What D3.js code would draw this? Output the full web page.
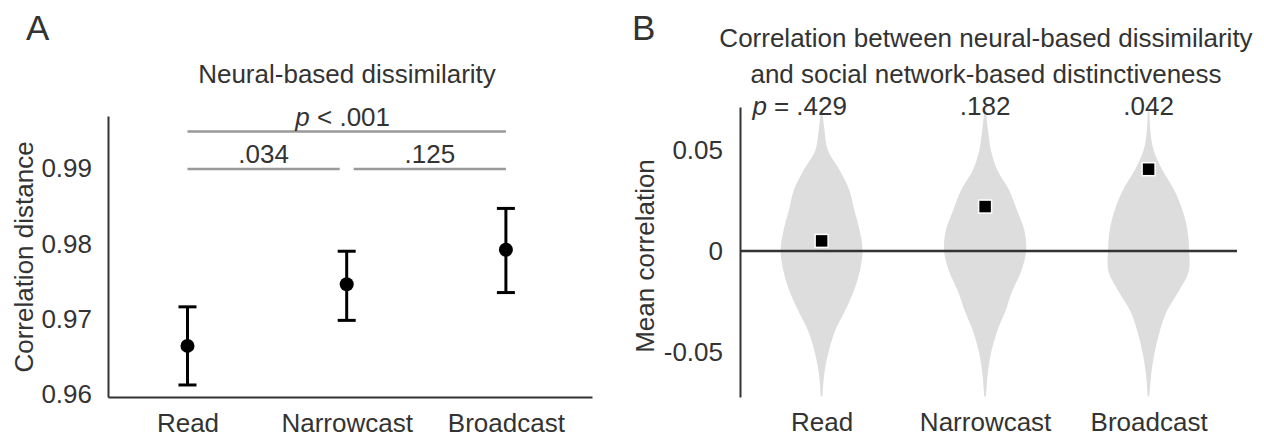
<!DOCTYPE html>
<html>
<head>
<meta charset="utf-8">
<script src="https://cdn.jsdelivr.net/npm/d3@7"></script>
<style>
  body { margin: 0; background: #fff; }
  text { font-family: "Liberation Sans", Arial, sans-serif; fill: #333; }
</style>
</head>
<body>
<svg id="chart"></svg>
<script>
const categories = ["Read", "Narrowcast", "Broadcast"];

// panel A: correlation distance, mean and error bar ends
const distMean = [0.9664, 0.9746, 0.9792];
const distUpper = [0.9716, 0.979, 0.9847];
const distLower = [0.9612, 0.9698, 0.9735];
const distTicks = [0.96, 0.97, 0.98, 0.99];
const sigPairs = [["Read", "Narrowcast"], ["Narrowcast", "Broadcast"], ["Read", "Broadcast"]];
const sigLabels = [".034", ".125", "< .001"];

// panel B: mean correlation per condition, with violin profiles
const corrMean = [0.005, 0.022, 0.0405];
const corrTicks = [-0.05, 0, 0.05];
const corrPLabels = [".429", ".182", ".042"];
const violinGrid = [0.069, 0.06, 0.05, 0.04, 0.03, 0.02, 0.01, 0, -0.01, -0.02, -0.03, -0.04, -0.05, -0.06, -0.072];
const violinRead = [0.02, 0.07, 0.15, 0.44, 0.68, 0.8, 0.93, 1.0, 0.93, 0.78, 0.56, 0.32, 0.17, 0.07, 0.02];
const violinNarrow = [0.02, 0.07, 0.14, 0.3, 0.59, 0.78, 0.96, 1.0, 0.88, 0.66, 0.49, 0.29, 0.15, 0.07, 0.02];
const violinBroad = [0.02, 0.04, 0.12, 0.34, 0.63, 0.83, 0.95, 0.99, 0.98, 0.73, 0.44, 0.27, 0.15, 0.07, 0.02];
const violins = [violinRead, violinNarrow, violinBroad];

const width = 1264;
const height = 438;
const fontSize = 26;

const svg = d3.select("#chart").attr("width", width).attr("height", height);

// ---------- Panel A ----------
const xA = d3.scalePoint().domain(categories).range([108, 592]).padding(0.52).align(0.48);
const yA = d3.scaleLinear().domain([0.9596, 0.997]).range([397, 116]);

const gA = svg.append("g");

gA.append("text").attr("x", 26).attr("y", 40).style("font-size", "35px").text("A");

gA.append("text")
  .attr("x", 347).attr("y", 83)
  .attr("text-anchor", "middle")
  .style("font-size", fontSize + "px")
  .text("Neural-based dissimilarity");

const axisA = gA.append("g")
  .attr("transform", "translate(108,0)")
  .call(d3.axisLeft(yA).tickValues(distTicks).tickSize(0).tickPadding(16).tickFormat(d3.format(".2f")));

const xAxisA = gA.append("g")
  .attr("transform", "translate(0,397)")
  .call(d3.axisBottom(xA).tickSize(0).tickPadding(17));

[axisA, xAxisA].forEach((ax) => {
  ax.select(".domain").attr("stroke", "#333").attr("stroke-width", 2);
  ax.selectAll("text").style("font-size", fontSize + "px").attr("fill", "#333");
});

gA.append("text")
  .attr("transform", "translate(33,257) rotate(-90)")
  .attr("text-anchor", "middle")
  .style("font-size", fontSize + "px")
  .text("Correlation distance");

// significance brackets
sigPairs.forEach((pair, i) => {
  const wide = pair[0] === categories[0] && pair[1] === categories[2];
  const yBar = wide ? 131.5 : 169;
  let x1 = xA(pair[0]);
  let x2 = xA(pair[1]);
  if (!wide && pair[1] === categories[1]) x2 -= 7;
  if (!wide && pair[0] === categories[1]) x1 += 7;
  gA.append("line")
    .attr("x1", x1).attr("x2", x2)
    .attr("y1", yBar).attr("y2", yBar)
    .attr("stroke", "#999").attr("stroke-width", 2.5);
  const t = gA.append("text")
    .attr("x", (x1 + x2) / 2 - (wide ? 4 : 0))
    .attr("y", yBar - 6)
    .attr("text-anchor", "middle")
    .style("font-size", fontSize + "px");
  if (wide) {
    t.append("tspan").style("font-style", "italic").text("p");
    t.append("tspan").text(" " + sigLabels[i]);
  } else {
    t.text(sigLabels[i]);
  }
});

// error bars
const capW = 9;
categories.forEach((c, i) => {
  const cx = xA(c);
  gA.append("line")
    .attr("x1", cx).attr("x2", cx)
    .attr("y1", yA(distUpper[i])).attr("y2", yA(distLower[i]))
    .attr("stroke", "#000").attr("stroke-width", 3);
  [distUpper[i], distLower[i]].forEach((v) => {
    gA.append("line")
      .attr("x1", cx - capW).attr("x2", cx + capW)
      .attr("y1", yA(v)).attr("y2", yA(v))
      .attr("stroke", "#000").attr("stroke-width", 3);
  });
});

gA.selectAll("circle.mean")
  .data(distMean)
  .enter()
  .append("circle")
  .attr("class", "mean")
  .attr("cx", (d, i) => xA(categories[i]))
  .attr("cy", (d) => yA(d))
  .attr("r", 7)
  .attr("fill", "#000");

// ---------- Panel B ----------
const xB = d3.scalePoint().domain(categories).range([740, 1237]).padding(0.52).align(0.48);
const yB = d3.scaleLinear().domain([-0.0723, 0.0713]).range([397, 107]);
const wB = d3.scaleLinear().domain([0, 1]).range([0, 41]);

const gB = svg.append("g");

gB.append("text").attr("x", 632).attr("y", 40).style("font-size", "35px").text("B");

const titleB = gB.append("text")
  .attr("text-anchor", "middle")
  .style("font-size", fontSize + "px");
titleB.append("tspan").attr("x", 986).attr("y", 47).text("Correlation between neural-based dissimilarity");
titleB.append("tspan").attr("x", 986).attr("y", 83).text("and social network-based distinctiveness");

// violins
const violinArea = d3.area()
  .x0((d) => -wB(d[1]))
  .x1((d) => wB(d[1]))
  .y((d) => yB(d[0]))
  .curve(d3.curveCatmullRom);

violins.forEach((dens, i) => {
  gB.append("path")
    .attr("transform", `translate(${xB(categories[i])},0)`)
    .attr("d", violinArea(violinGrid.map((v, j) => [v, dens[j]])))
    .attr("fill", "#dddddd");
});

const fmtB = (d) => (d === 0 ? "0" : d3.format(".2f")(d).replace("\u2212", "-"));
const yAxisB = gB.append("g")
  .attr("transform", "translate(740,0)")
  .call(d3.axisLeft(yB).tickValues(corrTicks).tickSize(0).tickPadding(17).tickFormat(fmtB));
yAxisB.select(".domain").attr("stroke", "#333").attr("stroke-width", 2);
yAxisB.selectAll("text").style("font-size", fontSize + "px").attr("fill", "#333");

// zero line
gB.append("line")
  .attr("x1", 740).attr("x2", 1237)
  .attr("y1", yB(0)).attr("y2", yB(0))
  .attr("stroke", "#333").attr("stroke-width", 2.5);

const xAxisB = gB.append("g")
  .attr("transform", "translate(0,397)")
  .call(d3.axisBottom(xB).tickSize(0).tickPadding(16));
xAxisB.select(".domain").remove();
xAxisB.selectAll("text").style("font-size", fontSize + "px").attr("fill", "#333");

gB.append("text")
  .attr("transform", "translate(654,256) rotate(-90)")
  .attr("text-anchor", "middle")
  .style("font-size", fontSize + "px")
  .text("Mean correlation");

// mean squares
const sq = 13;
gB.selectAll("rect.mean")
  .data(corrMean)
  .enter()
  .append("rect")
  .attr("class", "mean")
  .attr("x", (d, i) => xB(categories[i]) - sq / 2)
  .attr("y", (d) => yB(d) - sq / 2)
  .attr("width", sq).attr("height", sq)
  .attr("fill", "#000")
  .attr("stroke", "#fff").attr("stroke-width", 1.5);

// p values
corrPLabels.forEach((lab, i) => {
  const cx = xB(categories[i]);
  const t = gB.append("text")
    .attr("x", cx).attr("y", 115)
    .attr("text-anchor", "middle")
    .style("font-size", fontSize + "px")
    .text(lab);
  if (i === 0) {
    const w = t.node().getComputedTextLength();
    const p = gB.append("text")
      .attr("x", cx - w / 2 - 7).attr("y", 115)
      .attr("text-anchor", "end")
      .style("font-size", fontSize + "px");
    p.append("tspan").style("font-style", "italic").text("p");
    p.append("tspan").text(" =");
  }
});
</script>
</body>
</html>
